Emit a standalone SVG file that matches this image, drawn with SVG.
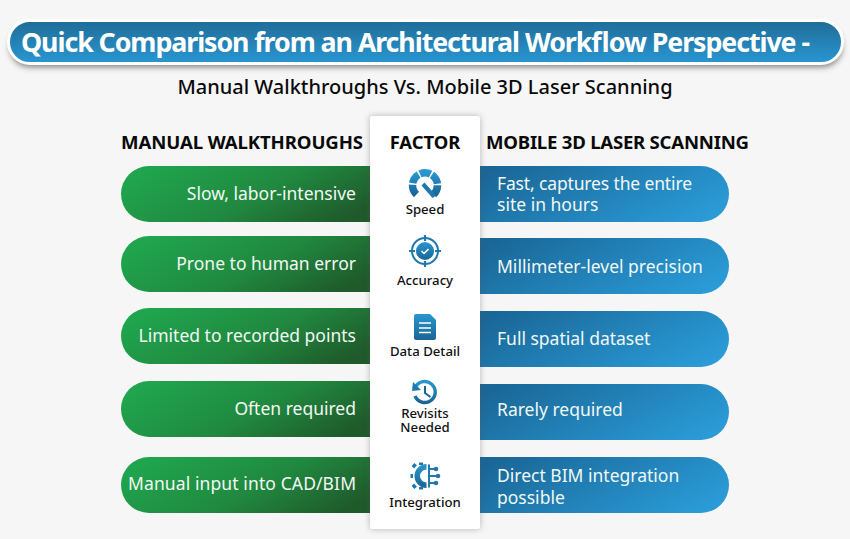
<svg xmlns="http://www.w3.org/2000/svg" width="850" height="539" viewBox="0 0 850 539">
<style>
text{font-family:"Noto Sans","Open Sans","Liberation Sans",sans-serif}
.h{font-size:18.600px;font-weight:700;fill:#0a0a0a}
.p{font-size:17.500px;fill:#f2f8f4;font-weight:400}
.l{text-anchor:end}
.f{font-size:13.200px;fill:#111;text-anchor:middle;font-weight:500}
.ic{fill:#1f78ae}
.s{fill:none;stroke:#1f78ae}
</style>
<defs>
<linearGradient id="tg" x1="0" y1="0" x2="0" y2="1"><stop offset="0" stop-color="#1f6c97"/><stop offset="1" stop-color="#2997d2"/></linearGradient>
<linearGradient id="gg" x1="0" y1="0.3" x2="1" y2="0.7"><stop offset="0" stop-color="#20a54e"/><stop offset="0.55" stop-color="#20893f"/><stop offset="1" stop-color="#1f5a2b"/></linearGradient>
<linearGradient id="bg" x1="0" y1="0.3" x2="1" y2="0.7"><stop offset="0" stop-color="#1a6797"/><stop offset="1" stop-color="#2a9bd7"/></linearGradient>
<linearGradient id="ig" x1="0" y1="0" x2="0" y2="1"><stop offset="0" stop-color="#2a96cf"/><stop offset="1" stop-color="#1a6595"/></linearGradient>
<filter id="sh" x="-5%" y="-30%" width="110%" height="170%"><feGaussianBlur stdDeviation="3"/></filter>
<filter id="ps" x="-15%" y="-5%" width="130%" height="110%"><feGaussianBlur stdDeviation="3"/></filter>
</defs>
<rect width="850" height="539" fill="#f6f6f7"/>
<g id="title">
<rect x="10" y="27" width="832" height="40" rx="20" fill="#555" opacity=".75" filter="url(#sh)"/>
<rect x="8.500" y="20.500" width="834" height="43" rx="21.500" fill="url(#tg)" stroke="#fff" stroke-width="3"/>
<text x="21" y="51.500" font-size="26.800" font-weight="700" fill="#fff" textLength="789">Quick Comparison from an Architectural Workflow Perspective -</text>
</g>
<text id="subtitle" x="425" y="94" font-size="20" font-weight="500" fill="#0a0a0a" text-anchor="middle">Manual Walkthroughs Vs. Mobile 3D Laser Scanning</text>
<g id="left-column">
<text class="h" x="121" y="149" textLength="242">MANUAL WALKTHROUGHS</text>
<g id="left-speed"><path d="M149 166H370V222H149a28 28 0 0 1 0-56z" fill="url(#gg)"/><text class="p l" x="356" y="200">Slow, labor-intensive</text></g>
<g id="left-accuracy"><path d="M149 236H370V292H149a28 28 0 0 1 0-56z" fill="url(#gg)"/><text class="p l" x="356" y="270">Prone to human error</text></g>
<g id="left-data"><path d="M149 308H370V364H149a28 28 0 0 1 0-56z" fill="url(#gg)"/><text class="p l" x="356" y="342">Limited to recorded points</text></g>
<g id="left-revisits"><path d="M149 381H370V437H149a28 28 0 0 1 0-56z" fill="url(#gg)"/><text class="p l" x="356" y="415">Often required</text></g>
<g id="left-integration"><path d="M149 457H370V513H149a28 28 0 0 1 0-56z" fill="url(#gg)"/><text class="p" x="128" y="490" textLength="228">Manual input into CAD/BIM</text></g>
</g>
<g id="right-column">
<text class="h" x="486" y="149" textLength="263">MOBILE 3D LASER SCANNING</text>
<g id="right-speed"><path d="M470 166H701a28 28 0 0 1 0 56H470z" fill="url(#bg)"/><text class="p" x="497" y="190" textLength="195">Fast, captures the entire</text><text class="p" x="497" y="211">site in hours</text></g>
<g id="right-accuracy"><path d="M470 238H701a28 28 0 0 1 0 56H470z" fill="url(#bg)"/><text class="p" x="497" y="273">Millimeter-level precision</text></g>
<g id="right-data"><path d="M470 311H701a28 28 0 0 1 0 56H470z" fill="url(#bg)"/><text class="p" x="497" y="345">Full spatial dataset</text></g>
<g id="right-revisits"><path d="M470 384H701a28 28 0 0 1 0 56H470z" fill="url(#bg)"/><text class="p" x="497" y="416">Rarely required</text></g>
<g id="right-integration"><path d="M470 457H701a28 28 0 0 1 0 56H470z" fill="url(#bg)"/><text class="p" x="497" y="482">Direct BIM integration</text><text class="p" x="497" y="504">possible</text></g>
</g>
<g id="factor-column">
<rect x="370" y="116" width="110" height="413" fill="#555" opacity=".4" filter="url(#ps)"/>
<rect x="370" y="116" width="110" height="413" rx="2" fill="#fff"/>
<text x="425" y="149" font-size="18.400" font-weight="700" fill="#0a0a0a" text-anchor="middle">FACTOR</text>
<g id="factor-speed">
<path d="M416.500 194.500A12.500 12.500 0 1 1 433.500 194.500" fill="none" stroke="url(#ig)" stroke-width="7.500" stroke-dasharray="10.800 1.500"/>
<path d="M421.500 185.500L424.500 182.500L436 195.500L432.500 198z" class="ic"/>
<text class="f" x="425" y="214">Speed</text>
</g>
<g id="factor-accuracy">
<circle cx="425" cy="251" r="13" class="s" stroke-width="2"/>
<circle cx="425" cy="251" r="9" fill="url(#ig)"/>
<path d="M425 235V241M425 261V267M409 251H415M435 251H441" class="s" stroke-width="2.200"/>
<path d="M421.500 251l2.500 2.500 4.500-4.500" fill="none" stroke="#fff" stroke-width="1.500"/>
<text class="f" x="425" y="285">Accuracy</text>
</g>
<g id="factor-data">
<path d="M414 316a2 2 0 0 1 2-2H430l6 6V338a2 2 0 0 1-2 2H416a2 2 0 0 1-2-2z" fill="url(#ig)"/>
<path d="M419 323H431M419 328H431M419 332.500H431" stroke="#fff" stroke-width="1.500"/>
<text class="f" x="425" y="356">Data Detail</text>
</g>
<g id="factor-revisits">
<path d="M415.500 387A10.500 10.500 0 1 1 415 396" fill="none" stroke="url(#ig)" stroke-width="3.400"/>
<path d="M413 382L421 390L412 391z" class="ic"/>
<path d="M425 386V393L430.500 397" fill="none" stroke="#1a6595" stroke-width="2"/>
<text class="f" x="425" y="418">Revisits<tspan x="425" dy="14">Needed</tspan></text>
</g>
<g id="factor-integration">
<path d="M426.500 464A12 12 0 1 0 426.500 488V482.500A6.500 6.500 0 1 1 426.500 469.500z" fill="url(#ig)"/>
<path d="M415.500 467l-2.500-2.500M413 476h-2.500M415.500 485l-2.500 2.500M421 465v-2.500M421 487v2.500" stroke="#1f78ae" stroke-width="4"/>
<path d="M429 464.500V487.500M429 469h6M429 476h8M429 483h6" fill="none" stroke="#1f78ae" stroke-width="2"/>
<circle cx="436" cy="469" r="2.300" class="ic"/><circle cx="438" cy="476" r="2.300" class="ic"/><circle cx="436" cy="483" r="2.300" class="ic"/>
<text class="f" x="425" y="507">Integration</text>
</g>
</g>
</svg>
